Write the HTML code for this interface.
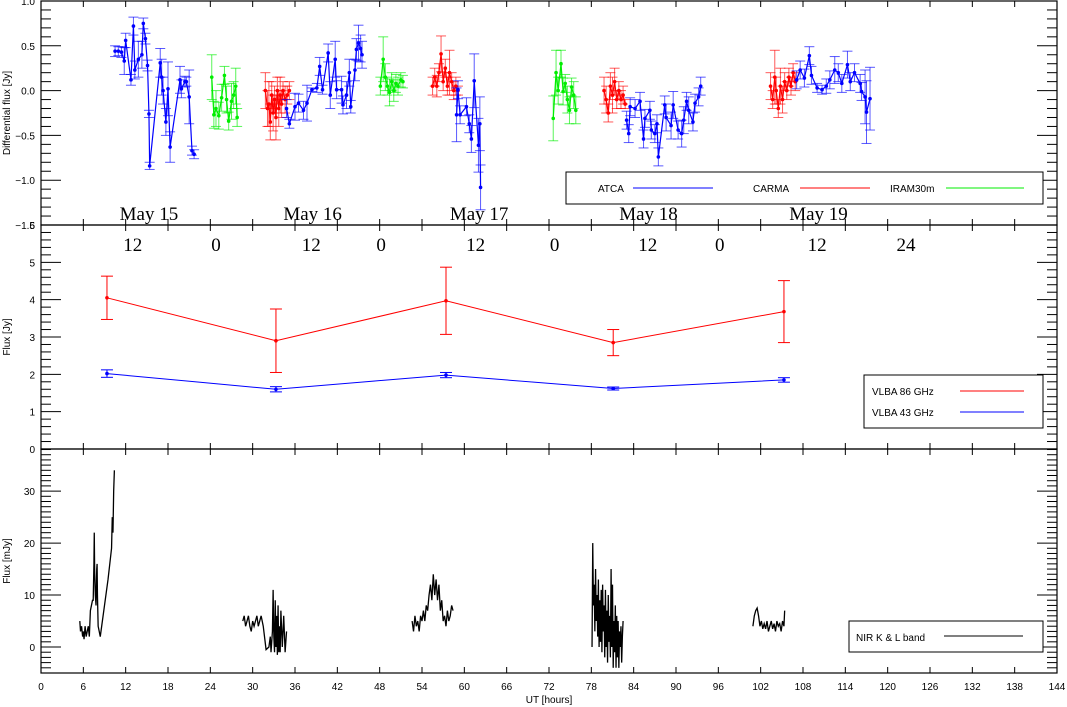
<!DOCTYPE html>
<html><head><meta charset="utf-8"><style>
body{margin:0;background:#fff}
svg{display:block}
text{font-family:"Liberation Sans",sans-serif;font-size:10px;fill:#000}
.serif{font-family:"Liberation Serif",serif;font-size:19px}
</style></head><body>
<svg id="chart" width="1067" height="707" viewBox="0 0 1067 707" xmlns="http://www.w3.org/2000/svg">
<g id="frames"></g>
<g id="marks"></g>
<g id="labels"></g>
<text x="549" y="703" text-anchor="middle">UT [hours]</text>
<text transform="translate(10,113) rotate(-90)" text-anchor="middle" font-size="9">Differential flux [Jy]</text>
<text transform="translate(10,337) rotate(-90)" text-anchor="middle" font-size="9">Flux [Jy]</text>
<text transform="translate(10,561) rotate(-90)" text-anchor="middle" font-size="9">Flux [mJy]</text>
<g>
<rect x="566" y="172" width="477" height="32" fill="#fff" stroke="#000"/>
<text x="598" y="192" font-size="9">ATCA</text><line x1="633" y1="188" x2="713" y2="188" stroke="#00f"/>
<text x="753" y="192" font-size="9">CARMA</text><line x1="800" y1="188" x2="870" y2="188" stroke="#f00"/>
<text x="890" y="192" font-size="9">IRAM30m</text><line x1="946" y1="188" x2="1024" y2="188" stroke="#0e0"/>
</g>
<g>
<rect x="864" y="375" width="179" height="53" fill="#fff" stroke="#000"/>
<text x="872" y="395" font-size="9">VLBA 86 GHz</text><line x1="960" y1="391" x2="1024" y2="391" stroke="#f00"/>
<text x="872" y="416" font-size="9">VLBA 43 GHz</text><line x1="960" y1="412" x2="1024" y2="412" stroke="#00f"/>
</g>
<g>
<rect x="849" y="621" width="194" height="31" fill="#fff" stroke="#000"/>
<text x="856" y="641" font-size="9">NIR K &amp; L band</text><line x1="944" y1="636" x2="1023" y2="636" stroke="#000"/>
</g>
</svg>
<script>
const atca = [[10.5,0.44,0.06],[10.96,0.44,0.05],[11.4,0.43,0.06],[11.8,0.33,0.15],[12.0,0.56,0.08],[12.75,0.12,0.06],[13.1,0.72,0.1],[13.3,0.23,0.1],[13.8,0.35,0.2],[14.3,0.40,0.15],[14.5,0.75,0.06],[14.8,0.58,0.06],[15.1,0.28,0.06],[15.3,-0.26,0.04],[15.4,-0.84,0.04],[16.9,0.31,0.16],[17.1,0.15,0.2],[17.3,0.0,0.15],[17.7,-0.35,0.15],[18.0,0.02,0.3],[18.3,-0.63,0.17],[19.7,0.12,0.15],[19.9,0.02,0.1],[20.4,0.1,0.06],[20.6,0.1,0.05],[21.0,-0.07,0.3],[21.4,-0.67,0.05],[21.7,-0.71,0.05],
[34.8,-0.2,0.1],[35.2,-0.37,0.05],[36.0,-0.18,0.15],[36.5,-0.14,0.1],[37.2,-0.22,0.1],[37.7,-0.14,0.2],[38.4,0.01,0.02],[39.1,0.03,0.05],[39.5,0.27,0.1],[39.9,0.01,0.05],[40.7,0.42,0.1],[41.0,-0.05,0.15],[41.7,0.35,0.2],[41.9,0.01,0.1],[42.6,0.01,0.15],[42.8,-0.16,0.1],[43.3,-0.05,0.15],[43.7,0.2,0.15],[43.9,-0.18,0.07],[44.5,0.23,0.12],[44.7,0.46,0.12],[45.0,0.53,0.2],[45.3,0.47,0.15],[45.5,0.40,0.15],
[58.9,-0.27,0.3],[59.1,0.01,0.1],[59.4,-0.27,0.1],[60.3,-0.18,0.1],[60.7,-0.37,0.1],[61.0,-0.54,0.15],[61.4,0.11,0.3],[62.0,-0.61,0.3],[62.2,-0.37,0.3],[62.3,-1.08,0.25],
[83.0,-0.33,0.1],[83.3,-0.48,0.1],[83.5,-0.18,0.1],[84.2,-0.2,0.1],[84.9,-0.12,0.1],[85.4,-0.54,0.1],[85.6,-0.31,0.1],[86.3,-0.22,0.1],[86.5,-0.44,0.1],[87.0,-0.48,0.1],[87.3,-0.37,0.1],[87.5,-0.74,0.1],[88.4,-0.16,0.1],[88.6,-0.3,0.15],[89.3,-0.39,0.15],[89.6,-0.16,0.15],[90.3,-0.44,0.1],[90.8,-0.48,0.15],[91.1,-0.33,0.15],[91.5,-0.12,0.1],[91.8,-0.22,0.15],[92.4,-0.35,0.1],[92.7,-0.14,0.1],[93.2,-0.07,0.1],[93.5,0.05,0.1],
[107.1,0.12,0.1],[107.6,0.23,0.1],[108.2,0.14,0.1],[108.9,0.39,0.1],[109.2,0.17,0.1],[110.0,0.03,0.05],[110.7,0.01,0.05],[111.3,0.05,0.08],[111.8,0.12,0.1],[112.5,0.23,0.15],[113.0,0.2,0.1],[113.5,0.08,0.1],[114.3,0.29,0.15],[114.7,0.1,0.1],[115.3,0.2,0.1],[116.1,0.08,0.1],[116.3,-0.01,0.1],[116.8,-0.07,0.3],[117.0,-0.24,0.35],[117.5,-0.09,0.35]];
const carma = [[31.8,0.0,0.2],[32.1,-0.2,0.2],[32.3,-0.15,0.25],[32.5,-0.35,0.2],[32.7,-0.05,0.15],[32.9,-0.25,0.2],[33.1,-0.1,0.15],[33.3,-0.3,0.25],[33.5,0.0,0.15],[33.7,-0.2,0.2],[33.9,-0.05,0.2],[34.1,-0.15,0.15],[34.3,0.0,0.1],[34.6,-0.1,0.15],[34.9,-0.05,0.1],[35.2,0.0,0.1],
[55.5,0.05,0.1],[55.8,0.15,0.1],[56.1,0.05,0.12],[56.4,0.2,0.1],[56.7,0.41,0.2],[57.0,0.1,0.1],[57.3,0.25,0.1],[57.6,0.05,0.1],[57.9,0.2,0.25],[58.2,0.1,0.1],[58.5,0.0,0.1],[58.8,0.05,0.1],[59.1,0.0,0.05],
[79.8,0.0,0.15],[80.1,-0.1,0.15],[80.4,-0.25,0.1],[80.7,0.05,0.15],[81.0,-0.05,0.2],[81.3,0.1,0.15],[81.6,-0.1,0.1],[81.9,0.0,0.1],[82.2,-0.1,0.1],[82.5,-0.05,0.1],[82.8,-0.15,0.05],
[103.4,0.05,0.15],[103.7,-0.1,0.1],[104.0,0.15,0.3],[104.2,0.0,0.15],[104.5,-0.2,0.1],[104.8,0.05,0.2],[105.1,-0.1,0.15],[105.4,0.1,0.1],[105.7,0.0,0.1],[106.0,0.15,0.1],[106.3,0.05,0.1],[106.6,0.2,0.1],[106.9,0.1,0.1]];
const iram = [[24.2,0.15,0.25],[24.5,-0.27,0.15],[24.8,-0.2,0.2],[25.2,-0.28,0.15],[25.6,-0.08,0.15],[26.0,0.17,0.1],[26.3,-0.1,0.15],[26.6,-0.34,0.1],[27.0,-0.12,0.2],[27.3,-0.05,0.15],[27.6,0.05,0.2],[27.8,-0.3,0.1],
[48.1,0.05,0.1],[48.5,0.35,0.25],[48.8,0.15,0.15],[49.1,0.05,0.1],[49.4,-0.02,0.15],[49.7,0.1,0.1],[50.0,0.0,0.12],[50.3,0.08,0.1],[50.6,0.05,0.1],[51.0,0.12,0.08],[51.3,0.1,0.07],
[72.6,-0.31,0.25],[73.0,0.2,0.25],[73.3,0.0,0.15],[73.7,0.30,0.15],[74.0,-0.01,0.15],[74.3,0.08,0.1],[74.6,-0.1,0.15],[74.9,-0.22,0.15],[75.2,0.04,0.1],[75.5,-0.05,0.15],[75.8,-0.22,0.15]];
const vlbaT = [9.35,33.3,57.4,81.1,105.3];
const vlba86 = [4.05,2.9,3.97,2.85,3.68];
const vlba86Err = [0.58,0.85,0.9,0.35,0.83];
const vlba43 = [2.02,1.6,1.98,1.62,1.85];
const vlba43Err = [0.1,0.07,0.07,0.04,0.06];
const nirT = [5.5,5.6,5.75,5.9,6.0,6.1,6.25,6.4,6.55,6.7,6.85,7.0,7.15,7.3,7.4,7.5,7.55,7.6,7.7,7.8,7.9,7.95,8.0,8.1,8.25,8.4,8.6,9.0,9.5,10.0,10.1,10.2,10.3,10.4,
28.6,28.8,29.0,29.2,29.4,29.6,29.8,30.0,30.2,30.4,30.6,30.8,31.0,31.2,31.5,31.9,32.3,32.5,32.6,32.8,32.9,33.0,33.1,33.2,33.3,33.4,33.5,33.6,33.7,33.8,33.9,34.0,34.2,34.4,34.6,34.8,
52.6,52.8,53.0,53.2,53.4,53.6,53.8,54.0,54.2,54.4,54.6,54.8,55.0,55.2,55.4,55.6,55.8,56.0,56.2,56.4,56.6,56.8,57.0,57.2,57.4,57.6,57.8,58.0,58.2,58.4,
78.1,78.2,78.3,78.4,78.5,78.6,78.7,78.8,78.9,79.0,79.1,79.2,79.3,79.4,79.5,79.6,79.7,79.8,79.9,80.0,80.1,80.2,80.3,80.4,80.5,80.6,80.7,80.8,80.9,81.0,81.1,81.2,81.3,81.4,81.5,81.6,81.7,81.8,81.9,82.0,82.1,82.2,82.3,82.4,82.5,
100.9,101.1,101.3,101.5,101.7,101.9,102.1,102.3,102.5,102.7,102.9,103.1,103.3,103.5,103.7,103.9,104.1,104.3,104.5,104.7,104.9,105.1,105.3,105.4];
const nirV = [5,3,4,2,3,1.5,4,2,3,4,2,7,8,9,9,16,22,15,10,8,15,16,10,4,3,2,4,8,13,19,25,22,30,34,
5,6,4,5,6,4,3,5,4,5,6,4,5,6,4,-0.5,0,2,-1,3,11,2,-1,9,0,6,-1.5,8,-1,4,-1,7,0,6,-1,3,
5,3,6,4,5,3,6,5,7,5,8,7,10,12,9,14,10,13,9,12,7,9,5,6,4,7,5,6,8,7,
0,20,8,12,3,15,5,10,2,13,0,9,1,11,-1,12,3,8,-2,11,0,7,-3,10,1,6,-2,15,0,12,-4,5,-1,8,-4,6,-2,5,-4,3,0,4,-3,2,5,
4,6,7,7.5,6,4,5,3.5,4.5,3.5,5,3,4,5,3.5,4.5,3,5,4,4.5,3,5,4,7];
const xTicks = [0,6,12,18,24,30,36,42,48,54,60,66,72,78,84,90,96,102,108,114,120,126,132,138,144];
const dayLabels = ["May 15","May 16","May 17","May 18","May 19"];
const dayHours = [15.3,38.5,62.1,86.1,110.2];
const hourLabels = ["12","0","12","0","12","0","12","0","12","24"];
const hourHours = [13.0,24.8,38.3,48.2,61.6,72.8,86.0,96.2,110.0,122.6];

const NS='http://www.w3.org/2000/svg';
const L=41,R=1057;
const X=h=>L+(h/144)*(R-L);
const panels=[{t:1,b:225,min:-1.5,max:1.0,maj:0.5,mn:0.1,fmt:v=>v.toFixed(1).replace('-','\u2212'),name:'top'},
{t:225,b:449,min:0,max:6,maj:1,mn:0.2,fmt:v=>String(v),name:'middle'},
{t:449,b:673,min:-5,max:38.1,maj:10,mn:1,fmt:v=>String(v),name:'bottom'}];
const Y=(p,v)=>p.b-(v-p.min)/(p.max-p.min)*(p.b-p.t);
function el(tag,attrs,parent){const e=document.createElementNS(NS,tag);for(const k in attrs)e.setAttribute(k,attrs[k]);parent.appendChild(e);return e;}
const frames=document.getElementById('frames'),marks=document.getElementById('marks'),labels=document.getElementById('labels');
panels.forEach(p=>{
  const r=el('rect',{x:L,y:p.t,width:R-L,height:p.b-p.t,fill:'none',stroke:'#000','stroke-width':1.2},frames);
  
  
  const start=Math.ceil(p.min/p.mn-1e-6);
  for(let i=start;i*p.mn<=p.max+1e-6;i++){
    const v=+(i*p.mn).toFixed(4);const y=Y(p,v);
    const isMaj=Math.abs(v/p.maj-Math.round(v/p.maj))<1e-6;
    const len=isMaj?20:10;
    el('line',{x1:L,y1:y,x2:L+len,y2:y,stroke:'#000'},frames);
    el('line',{x1:R,y1:y,x2:R-len,y2:y,stroke:'#000'},frames);
    if(isMaj){const t=el('text',{x:L-6,y:y+4,'text-anchor':'end'},labels);t.textContent=p.fmt(v);
      
      }
  }
  xTicks.forEach(h=>{
    el('line',{x1:X(h),y1:p.b,x2:X(h),y2:p.b-6,stroke:'#000'},frames);
    el('line',{x1:X(h),y1:p.t,x2:X(h),y2:p.t+6,stroke:'#000'},frames);
  });
});
xTicks.forEach(h=>{const t=el('text',{x:X(h),y:690,'text-anchor':'middle'},labels);t.textContent=h;
  
  });
dayLabels.forEach((d,i)=>{const t=el('text',{x:X(dayHours[i]),y:220,'text-anchor':'middle',class:'serif'},labels);t.textContent=d;
  
  });
hourLabels.forEach((d,i)=>{const t=el('text',{x:X(hourHours[i]),y:251,'text-anchor':'middle',class:'serif'},labels);t.textContent=d;
  
  });

function series(data,color,name){
  const p=panels[0];
  const g=el('g',{},marks);
  
  
  data.forEach(d=>{const x=X(d[0]);
    el('line',{x1:x,y1:Y(p,d[1]-d[2]),x2:x,y2:Y(p,d[1]+d[2]),stroke:color,'stroke-opacity':0.65},g);
    el('line',{x1:x-5,y1:Y(p,d[1]-d[2]),x2:x+5,y2:Y(p,d[1]-d[2]),stroke:color,'stroke-opacity':0.65},g);
    el('line',{x1:x-5,y1:Y(p,d[1]+d[2]),x2:x+5,y2:Y(p,d[1]+d[2]),stroke:color,'stroke-opacity':0.65},g);
  });
  let pts=[];const flush=()=>{if(pts.length>1)el('polyline',{points:pts.join(' '),fill:'none',stroke:color,'stroke-width':1.2},g);pts=[];};
  data.forEach((d,i)=>{if(i>0&&d[0]-data[i-1][0]>5)flush();pts.push(X(d[0])+','+Y(p,d[1]));});flush();
  data.forEach(d=>{const c=el('circle',{cx:X(d[0]),cy:Y(p,d[1]),r:1.8,fill:color},g);
    
    });
}
series(carma,'#f00','carma');
series(iram,'#0e0','iram30m');
series(atca,'#00f','atca');

function vlba(vals,errs,color,name){
  const p=panels[1];const g=el('g',{},marks);
  
  
  el('polyline',{points:vlbaT.map((h,i)=>X(h)+','+Y(p,vals[i])).join(' '),fill:'none',stroke:color},g);
  vlbaT.forEach((h,i)=>{const x=X(h);const y1=Y(p,vals[i]-errs[i]),y2=Y(p,vals[i]+errs[i]);
    el('line',{x1:x,y1:y1,x2:x,y2:y2,stroke:color},g);
    el('line',{x1:x-6,y1:y1,x2:x+6,y2:y1,stroke:color},g);
    el('line',{x1:x-6,y1:y2,x2:x+6,y2:y2,stroke:color},g);
    const c=el('circle',{cx:x,cy:Y(p,vals[i]),r:1.8,fill:color},g);
    
    
  });
}
vlba(vlba86,vlba86Err,'#f00','vlba-86ghz');
vlba(vlba43,vlba43Err,'#00f','vlba-43ghz');

(function(){const p=panels[2];const g=el('g',{},marks);
  
  
  let pts=[];const flush=()=>{if(pts.length>1){const pl=el('polyline',{points:pts.join(' '),fill:'none',stroke:'#000','stroke-width':1.3},g);
    
    }pts=[];};
  nirT.forEach((h,i)=>{if(i>0&&h-nirT[i-1]>3)flush();pts.push(X(h)+','+Y(p,nirV[i]));});flush();
})();
</script>
</body></html>
